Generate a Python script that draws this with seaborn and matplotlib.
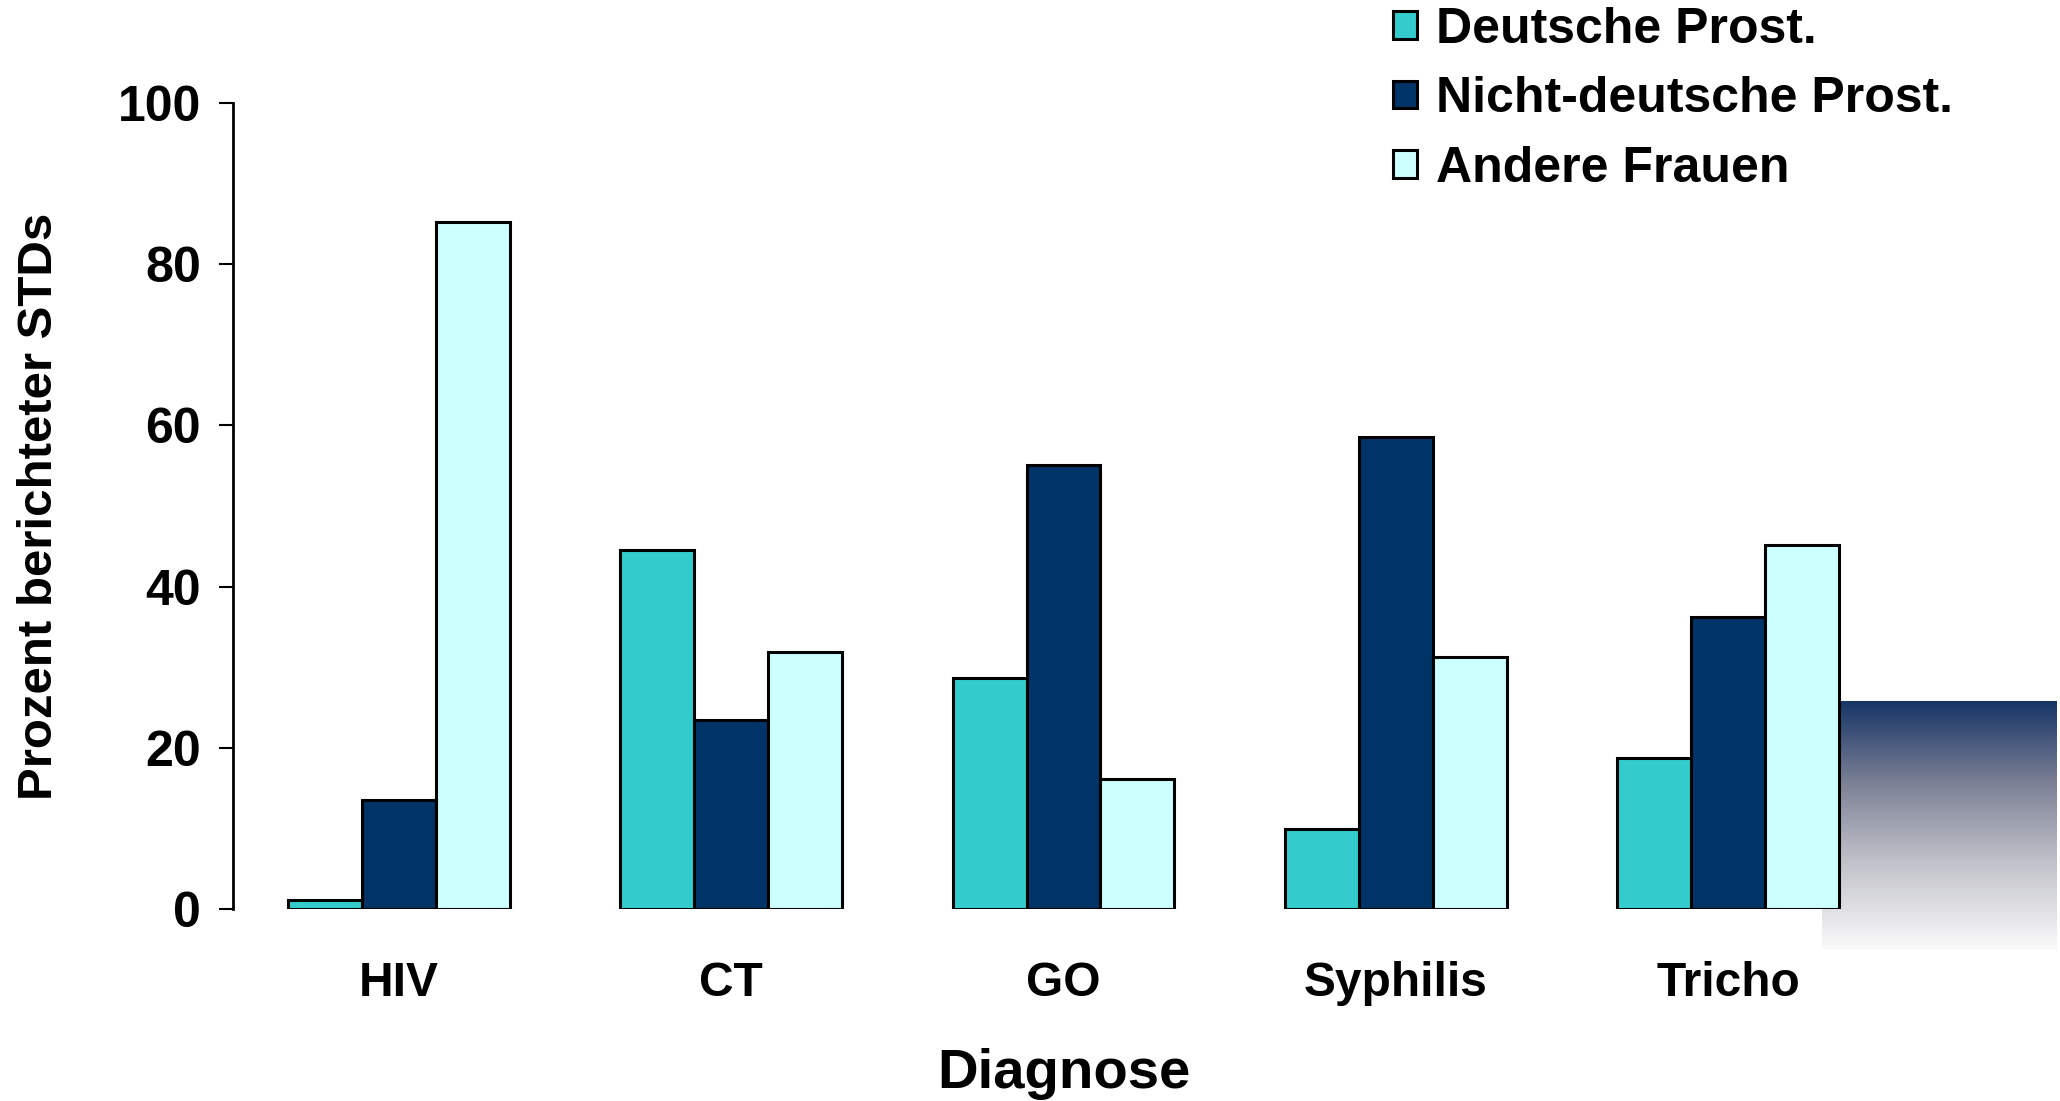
import numpy as np
import matplotlib
matplotlib.use("Agg")
import matplotlib.pyplot as plt
import pandas as pd
import seaborn as sns
from matplotlib.colors import LinearSegmentedColormap

# values
categories = ["HIV", "CT", "GO", "Syphilis", "Tricho"]
groups = ["Deutsche Prost.", "Nicht-deutsche Prost.", "Andere Frauen"]
deutsche = [1.1, 44.6, 28.7, 9.9, 18.8]
nicht_deutsche = [13.6, 23.5, 55.1, 58.6, 36.2]
andere = [85.2, 31.9, 16.2, 31.3, 45.2]
colors = ["#33CCCC", "#003366", "#CCFFFF"]
y_ticks = [0, 20, 40, 60, 80, 100]

rows = []
for g, vals in zip(groups, [deutsche, nicht_deutsche, andere]):
    for c, v in zip(categories, vals):
        rows.append({"Diagnose": c, "Gruppe": g, "Prozent": v})
df = pd.DataFrame(rows)

sns.set_theme(style="ticks")
plt.rcParams["font.family"] = ["Liberation Sans", "DejaVu Sans"]
plt.rcParams["font.weight"] = "bold"
plt.rcParams["text.color"] = "black"

W, H = 2060, 1101
fig = plt.figure(figsize=(W / 100, H / 100), dpi=100)

# decorative gradient block in the lower right corner
gx0, gx1, gy0, gy1 = 1822, 2057, 701, 950
gax = fig.add_axes([gx0 / W, 1 - gy1 / H, (gx1 - gx0) / W, (gy1 - gy0) / H], zorder=0)
cmap = LinearSegmentedColormap.from_list("grad", ["#163465", "#7c8196", "#c4c5cc", "#fafafa"])
grad = np.linspace(0, 1, 256).reshape(-1, 1)
gax.imshow(grad, aspect="auto", cmap=cmap)
gax.axis("off")

ax = fig.add_axes([233 / W, 1 - 909.2 / H, (1894 - 233) / W, (909.2 - 102.7) / H], zorder=1)
ax.set_facecolor("none")

sns.barplot(data=df, x="Diagnose", y="Prozent", hue="Gruppe", order=categories,
            hue_order=groups, palette=colors, width=0.668, edgecolor="black",
            linewidth=2.2, saturation=1, ax=ax)

ax.set_xlim(-0.5, 4.5)
ax.set_ylim(0, 100)
ax.set_yticks(y_ticks)
sns.despine(ax=ax, top=True, right=True, bottom=True)
ax.spines["left"].set_linewidth(2)
ax.spines["left"].set_color("black")
ax.tick_params(axis="y", direction="out", length=10, width=1.5, pad=13,
               labelsize=36, colors="black")
ax.tick_params(axis="x", length=0, pad=37, labelsize=34.5, colors="black")
for lab in ax.get_xticklabels() + ax.get_yticklabels():
    lab.set_fontweight("bold")

ax.set_xlabel("Diagnose", fontsize=40.5, fontweight="bold", color="black")
ax.set_ylabel("Prozent berichteter STDs", fontsize=35.5, fontweight="bold", color="black")
ax.xaxis.set_label_coords(0.5, -0.172)
ax.yaxis.set_label_coords(-0.103, 0.5)

handles, labels = ax.get_legend_handles_labels()
ax.legend(handles, labels, loc="upper left", bbox_to_anchor=(1393 / W, 1 - 7 / H),
          bbox_transform=fig.transFigure, frameon=False, borderpad=0,
          borderaxespad=0, handlelength=0.47, handleheight=0.47, handletextpad=0.4,
          labelspacing=0.47, labelcolor="black", prop={"size": 36, "weight": "bold"})

fig.savefig("out.png", dpi=100, facecolor="white")
